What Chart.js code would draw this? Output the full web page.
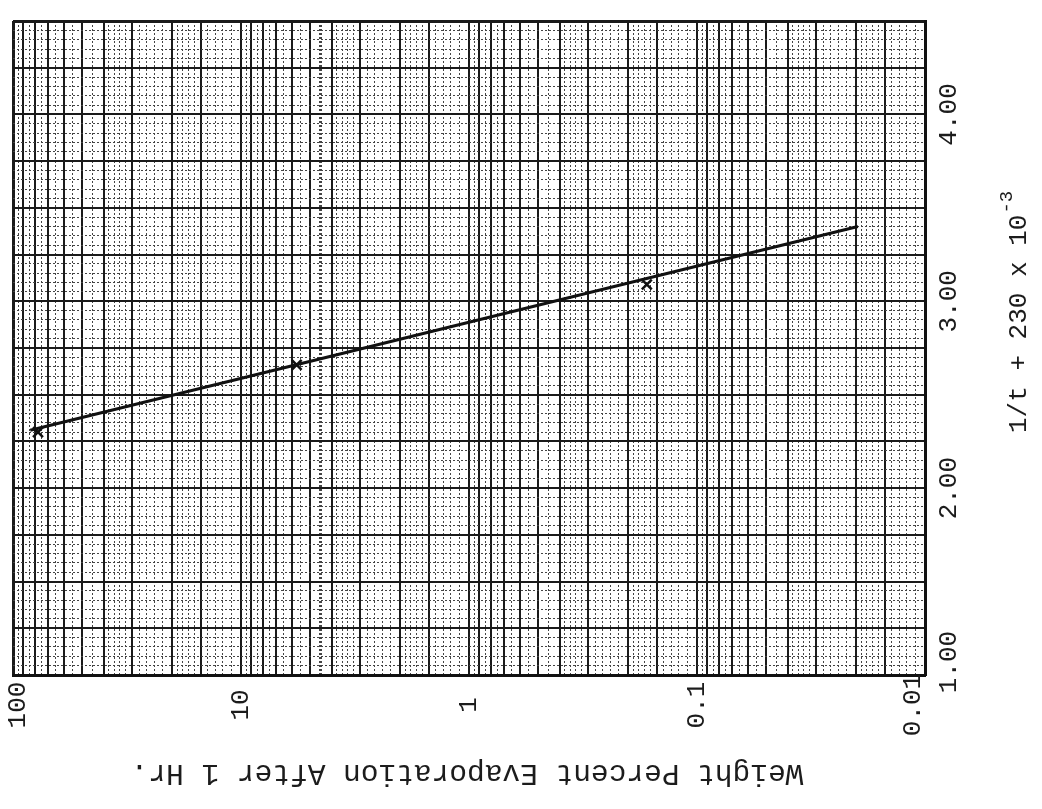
<!DOCTYPE html>
<html>
<head>
<meta charset="utf-8">
<script src="https://cdn.jsdelivr.net/npm/chart.js@4.4.1/dist/chart.umd.min.js"></script>
<style>
  html, body { margin: 0; padding: 0; background: #fff; }
  #wrap { width: 1042px; height: 809px; position: relative; }
</style>
</head>
<body>
<div id="wrap"><canvas id="grafico"></canvas></div>
<script>
// Porcentaje evaporado en 1 h (escala log invertida) frente a 1/t + 230 x 10^-3
const evapMedida = [77.7, 5.7, 0.166];
const invTempMedida = [2.30, 2.66, 3.09];
const evapAjuste = [84, 0.0197];
const invTempAjuste = [2.31, 3.40];

const evapEtiquetas = [100, 10, 1, 0.1, 0.01];
const evapTextos = ['100', '10', '1', '0.1', '0.01'];
const invTempEtiquetas = [1, 2, 3, 4];
const invTempTextos = ['1.00', '2.00', '3.00', '4.00'];

const TINTA = '#1c1c1c';
const FUENTE = '"Liberation Mono", "DejaVu Sans Mono", monospace';

// lineas del papel semilog: gruesas en 1, 1.5, 2, 2.5, 3..9 de cada decada
function lineasLog() {
    const out = [];
    [0.01, 0.1, 1, 10].forEach(d => {
        for (let k = 10; k < 100; ) {
            const m = k / 10;
            const gruesa = k % 10 === 0 || k === 15 || k === 25;
            out.push({ value: +(m * d).toPrecision(6), major: gruesa });
            k += k < 20 ? 1 : (k < 40 ? 2 : 5);
        }
    });
    out.push({ value: 100, major: true });
    return out;
}

// lineas horizontales cada 0.05, gruesas cada 0.25
function lineasLin() {
    const out = [];
    for (let i = 0; i <= 70; i++) {
        out.push({ value: +(1 + i * 0.05).toFixed(2), major: i % 5 === 0 });
    }
    return out;
}

function rotado(ctx, x, y, ang, txt) {
    ctx.save();
    ctx.translate(x, y);
    ctx.rotate(ang);
    ctx.fillText(txt, 0, 0);
    ctx.restore();
}

const textoEjes = {
    id: 'textoEjes',
    afterDraw(chart) {
        const { ctx, chartArea: a, scales: { x, y } } = chart;
        ctx.save();
        ctx.fillStyle = TINTA;
        ctx.textAlign = 'center';
        ctx.textBaseline = 'middle';
        ctx.font = '26px ' + FUENTE;

        evapEtiquetas.forEach((v, i) => {
            const px = Math.min(Math.max(x.getPixelForValue(v), a.left + 5), a.right - 12);
            rotado(ctx, px, 705, -Math.PI / 2, evapTextos[i]);
        });
        invTempEtiquetas.forEach((v, i) => {
            const py = Math.min(y.getPixelForValue(v), a.bottom - 13);
            rotado(ctx, 949, py, -Math.PI / 2, invTempTextos[i]);
        });

        // titulo inferior, impreso al reves
        ctx.font = '29.5px ' + FUENTE;
        rotado(ctx, 467, 773, Math.PI, 'Weight Percent Evaporation After 1 Hr.');

        // titulo derecho con exponente
        ctx.save();
        ctx.translate(1019, 433);
        ctx.rotate(-Math.PI / 2);
        ctx.textAlign = 'left';
        ctx.font = '26px ' + FUENTE;
        const base = '1/t + 230 x 10';
        ctx.fillText(base, 0, 0);
        const w = ctx.measureText(base).width;
        ctx.font = '19px ' + FUENTE;
        ctx.fillText('-3', w + 1, -12);
        ctx.restore();

        ctx.restore();
    }
};

const gridPapel = {
    color: c => (c.tick && c.tick.major) ? '#1a1a1a' : '#444',
    lineWidth: c => {
        if (!c.tick) return 1;
        if (c.tick.value === 100 || c.tick.value === 4.5) return 3;
        return c.tick.major ? 2 : 1;
    },
    drawTicks: false
};

const bordePapel = {
    display: true,
    width: 3,
    color: '#111',
    dash: c => (c.tick && !c.tick.major) ? [2, 2] : []
};

new Chart(document.getElementById('grafico'), {
    type: 'line',
    data: {
        datasets: [
            {
                label: 'ajuste',
                data: evapAjuste.map((v, i) => ({ x: v, y: invTempAjuste[i] })),
                borderColor: '#111',
                borderWidth: 3,
                pointRadius: 0,
                fill: false,
                tension: 0
            },
            {
                label: 'medida',
                data: evapMedida.map((v, i) => ({ x: v, y: invTempMedida[i] })),
                showLine: false,
                pointStyle: 'crossRot',
                pointRadius: 7,
                pointBorderWidth: 2.5,
                borderColor: '#111',
                backgroundColor: '#111'
            }
        ]
    },
    options: {
        responsive: true,
        maintainAspectRatio: false,
        animation: false,
        layout: { padding: { left: 13, top: 21, right: 117, bottom: 134 } },
        plugins: { legend: { display: false }, tooltip: { enabled: false } },
        scales: {
            x: {
                type: 'logarithmic',
                reverse: true,
                min: 0.01,
                max: 100,
                afterBuildTicks: s => { s.ticks = lineasLog(); },
                ticks: { display: false },
                grid: gridPapel,
                border: bordePapel
            },
            y: {
                type: 'linear',
                position: 'right',
                min: 1,
                max: 4.5,
                afterBuildTicks: s => { s.ticks = lineasLin(); },
                ticks: { display: false },
                grid: gridPapel,
                border: bordePapel
            }
        }
    },
    plugins: [textoEjes]
});
</script>
</body>
</html>
